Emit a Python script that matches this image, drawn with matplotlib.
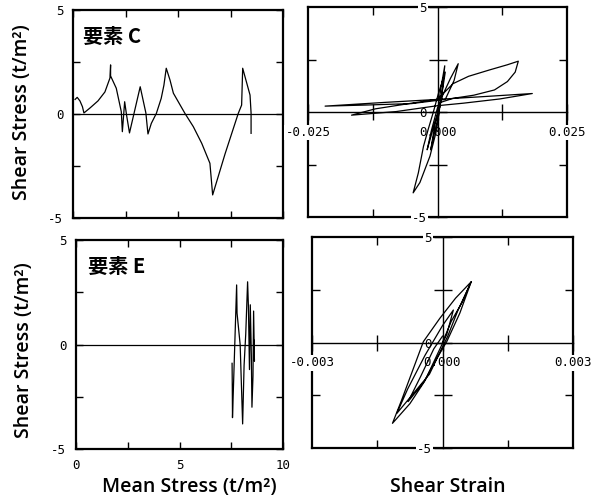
import matplotlib.pyplot as plt

# element C : mean stress - shear stress (t/m2)
c_mean = [0.10, 0.20, 0.33, 0.45, 0.52, 0.81, 1.19, 1.52, 1.76, 1.79, 1.79, 2.06, 2.30, 2.35,
          2.46, 2.55, 2.69, 3.20, 3.47, 3.57, 3.73, 3.97, 4.20, 4.33, 4.44, 4.62, 4.78,
          5.33, 5.73, 6.13, 6.52, 6.65, 7.24, 7.87, 8.03, 8.08, 8.43, 8.48, 8.48]
c_shear = [0.70, 0.80, 0.63, 0.35, 0.05, 0.29, 0.63, 1.06, 1.73, 2.36, 1.83, 1.24, 0.11, -0.85,
           0.59, -0.05, -0.91, 1.31, 0.05, -0.96, -0.45, 0.03, 0.75, 1.39, 2.20, 1.63, 1.00,
           0.03, -0.61, -1.41, -2.37, -3.89, -1.92, 0.03, 0.43, 2.20, 0.91, 0.05, -0.93]

# element E : mean stress - shear stress
e_mean = [7.54, 7.55, 7.56, 7.76, 7.78, 7.93, 8.05, 8.12, 8.20, 8.29, 8.33, 8.38,
          8.42, 8.47, 8.50, 8.55, 8.58, 8.62, 8.60]
e_shear = [-0.9, -2.0, -3.5, 2.85, 1.5, 0.0, -3.8, -1.0, 0.5, 3.0, 1.8, -1.2,
           1.9, -0.5, -3.0, -1.5, 1.6, -0.8, 0.2]

# element C : shear strain - shear stress
c_strain = [0.0, 0.0007, 0.0014, 0.0010, 0.0002, -0.0008, -0.0013, -0.0005, 0.0010, 0.0025,
            0.0040, 0.0032, 0.0015,
            -0.0050, -0.0140, -0.0217, -0.0100, 0.0, 0.0100, 0.0183, 0.0120, 0.0050, 0.0,
            -0.0080, -0.0166, -0.0120, -0.0050, 0.0,
            0.0030, 0.0060, 0.0100, 0.0135, 0.0156, 0.0150, 0.0135, 0.0110, 0.0070, 0.0030, 0.0005,
            -0.00015, -0.00145, -0.0034, -0.0047, -0.0037, -0.0027, -0.0018, -0.0008, 0.0002,
            0.0015, 0.0005, -0.0005, -0.0020, -0.0012, 0.0]
c_stress = [0.0, 1.2, 2.2, 1.2, -0.2, -1.2, -1.8, -0.6, 0.8, 1.6,
            2.3, 1.5, 0.6,
            0.40, 0.33, 0.28, 0.46, 0.60, 0.75, 0.88, 0.62, 0.42, 0.30,
            0.02, -0.15, 0.15, 0.42, 0.60,
            1.35, 1.70, 2.00, 2.25, 2.42, 1.90, 1.45, 1.05, 0.80, 0.65, 0.45,
            -0.83, -2.10, -3.36, -3.85, -2.90, -1.63, -0.83, 0.0, 0.9,
            1.9, 0.3, -0.5, -1.8, -0.9, 0.2]

# element E : shear strain - shear stress
e_strain = [0.0, 0.0002, 0.00045, 0.00066, 0.0004, 0.0001, -0.0002, -0.00044, -0.00075, -0.00115,
            -0.00094, -0.00044, -0.00006, 0.0003, 0.00066, 0.00035, 0.00012, -0.0003, -0.00105,
            -0.0008, -0.0004, 0.0, 0.00025, 0.0001, -0.0004, -0.00079, -0.0005, -0.0002, 0.0]
e_stress = [0.0, 1.0, 1.9, 2.88, 1.4, 0.05, -1.0, -1.93, -2.9, -3.83,
            -2.73, 0.04, 1.15, 2.1, 2.88, 1.5, 0.3, -1.5, -3.36,
            -2.2, -0.6, 0.8, 1.54, 0.4, -1.8, -2.8, -1.6, -0.3, 0.3]

W, H = 601, 499
fig = plt.figure(figsize=(W / 100, H / 100), dpi=100)
mono = 'DejaVu Sans Mono'


def box(l, t, r, b):
    return fig.add_axes([l / W, 1 - b / H, (r - l) / W, (b - t) / H])


def frame(ax):
    for s in ax.spines.values():
        s.set_linewidth(1.6)
    ax.tick_params(direction='in', top=True, right=True, length=5, width=1,
                   labelsize=9, labelfontfamily=mono, pad=7)


def stress_path(ax, x, y, xticks):
    frame(ax)
    ax.set_xlim(0, 10)
    ax.set_ylim(-5, 5)
    ax.set_xticks([0, 2.5, 5, 7.5, 10], xticks)
    ax.set_yticks([-5, -2.5, 0, 2.5, 5], ['-5', '', '0', '', '5'])
    ax.axhline(0, color='k', lw=0.9)
    ax.plot(x, y, color='k', lw=0.9)


def loop(rect, x, y, lim, labels):
    # outer frame with inward ticks
    fr = box(*rect)
    frame(fr)
    fr.set_xlim(-lim, lim)
    fr.set_ylim(-5, 5)
    fr.set_xticks([-lim / 2, lim / 2], ['', ''])
    fr.set_yticks([-2.5, 2.5], ['', ''])
    fr.tick_params(length=6)

    # centre axes carrying the data and labels
    ax = box(*rect)
    ax.set_zorder(fr.get_zorder() + 1)
    ax.patch.set_visible(False)
    ax.set_xlim(-lim, lim)
    ax.set_ylim(-5, 5)
    for side in ('top', 'right'):
        ax.spines[side].set_visible(False)
    for side in ('left', 'bottom'):
        ax.spines[side].set_position('zero')
        ax.spines[side].set_linewidth(1)
    ax.set_xticks([-lim, -lim / 2, 0, lim / 2, lim], [labels[0], '', labels[1], '', labels[2]])
    ax.set_yticks([-5, -2.5, 0, 2.5, 5], ['-5', '', '0', '', '5'])
    ax.tick_params(axis='x', direction='inout', length=11, width=1, pad=4.5,
                   labelsize=9, labelfontfamily=mono)
    ax.tick_params(axis='y', direction='inout', length=13, width=1, pad=1,
                   labelsize=9, labelfontfamily=mono)
    for t in ax.get_xticklabels()[::4] + ax.get_yticklabels()[::4]:
        t.set_bbox(dict(fc='white', ec='none', pad=1))
    ax.plot(x, y, color='k', lw=0.9)
    return ax


cjk = dict(fontsize=14.5, fontweight='bold', family=['Noto Sans CJK JP', 'DejaVu Sans'],
           va='center')

ax1 = box(73, 10, 283, 218)
stress_path(ax1, c_mean, c_shear, [''] * 5)
ax1.text(0.048, 0.875, '要素 C', transform=ax1.transAxes, **cjk)

loop((308, 7, 567, 217), c_strain, c_stress, 0.025, ['-0.025', '0.000', '0.025'])

ax3 = box(76, 240, 283, 449)
stress_path(ax3, e_mean, e_shear, ['0', '', '5', '', '10'])
ax3.text(0.058, 0.875, '要素 E', transform=ax3.transAxes, **cjk)

loop((312, 237, 573, 448), e_strain, e_stress, 0.003, ['-0.003', '0.000', '0.003'])

lab = dict(fontsize=14, family='Open Sans', fontweight='semibold', ha='center', va='center')
fig.text(22 / W, 1 - 112 / H, 'Shear Stress (t/m²)', rotation=90, **lab)
fig.text(24 / W, 1 - 350 / H, 'Shear Stress (t/m²)', rotation=90, **lab)
fig.text(189 / W, 1 - 487 / H, 'Mean Stress (t/m²)', **lab)
fig.text(448 / W, 1 - 487 / H, 'Shear Strain', **lab)

fig.savefig('out.png', dpi=100)
